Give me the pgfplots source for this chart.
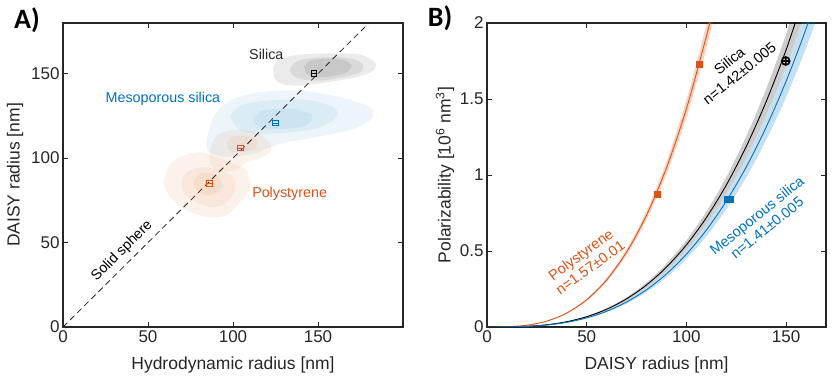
\documentclass[border=0pt]{standalone}
\usepackage{pgfplots}
\pgfplotsset{compat=1.18}
\usepgfplotslibrary{fillbetween}
\usepackage{fontspec}
\setmainfont{Liberation Sans}
\newfontfamily\carlito{Carlito}
\definecolor{mOrange}{RGB}{217,83,25}
\definecolor{mBlue}{RGB}{0,114,189}
\definecolor{psBlob}{RGB}{220,130,60}
\definecolor{axgray}{RGB}{38,38,38}
\pgfplotsset{
  mstyle/.style={
    scale only axis,
    axis line style={axgray, line width=1.2pt},
    tick style={axgray, line width=0.9pt},
    tick align=inside, major tick length=5pt,
    xtick pos=both, ytick pos=both,
    ticklabel style={font=\fontsize{17}{17}\selectfont, text=axgray},
    label style={font=\fontsize{17.5}{18}\selectfont, text=axgray},
    /pgf/number format/assume math mode=true,
  },
  blob/.style={draw=none, smooth, fill=#1},
}
\begin{document}
\begin{tikzpicture}

% ---------------- panel A ----------------
\begin{axis}[mstyle, at={(0pt,0pt)}, anchor=south west,
  width=340pt, height=304pt,
  xmin=0, xmax=200, ymin=0, ymax=180,
  xtick={0,50,100,150}, ytick={0,50,100,150},
  xlabel={Hydrodynamic radius [nm]}, ylabel={DAISY radius [nm]},
  xlabel style={at={(axis description cs:0.5,-0.125)}, anchor=center},
  ylabel style={at={(axis description cs:-0.141,0.5)}, anchor=center},
]
% silica density
\addplot[blob=black, fill opacity=0.08] coordinates {(123.7,153.8)(127.6,158.7)(139.4,161.3)(159.0,162.0)(174.7,161.3)(183.5,156.7)(182.5,151.8)(172.7,147.9)(155.1,144.9)(139.4,142.9)(128.6,143.9)(124.1,147.9)(123.7,153.8)} -- cycle;
\addplot[blob=black, fill opacity=0.08] coordinates {(133.5,152.8)(137.5,157.3)(147.3,159.3)(162.9,159.7)(172.7,158.1)(176.7,154.8)(174.7,150.8)(164.9,147.9)(151.2,145.9)(139.4,146.9)(134.5,149.8)(133.5,152.8)} -- cycle;
\addplot[blob=black, fill opacity=0.08] coordinates {(141.8,153.8)(145.3,157.7)(155.1,158.7)(164.9,158.1)(169.8,154.8)(166.9,150.8)(157.1,148.3)(147.3,147.9)(142.9,150.2)(141.8,153.8)} -- cycle;
% mesoporous silica density
\addplot[blob=mBlue, fill opacity=0.07] coordinates {(84.5,110.5)(88.4,124.2)(98.2,134.1)(115.9,139.0)(139.4,140.0)(162.9,136.0)(180.6,130.1)(181.6,123.3)(170.8,117.3)(149.2,112.4)(127.6,108.5)(111.9,102.6)(96.3,100.6)(85.5,103.5)(84.5,110.5)} -- cycle;
\addplot[blob=mBlue, fill opacity=0.07] coordinates {(98.2,124.2)(104.1,131.1)(119.8,134.1)(143.3,134.5)(159.0,130.1)(161.0,124.2)(151.2,118.3)(135.5,115.4)(117.8,114.4)(104.1,116.4)(98.2,124.2)} -- cycle;
\addplot[blob=mBlue, fill opacity=0.07] coordinates {(111.9,123.3)(117.8,128.2)(133.5,129.2)(145.3,126.2)(146.3,122.3)(139.4,118.3)(123.7,117.3)(113.9,119.3)(111.9,123.3)} -- cycle;
% polystyrene densities
\addplot[blob=psBlob, fill opacity=0.1] coordinates {(86.5,104.5)(89.4,112.4)(98.2,116.4)(110.0,116.0)(118.8,112.4)(122.7,105.5)(117.8,100.6)(108.0,97.6)(101.2,92.7)(90.4,92.7)(86.5,97.6)(86.5,104.5)} -- cycle;
\addplot[blob=psBlob, fill opacity=0.1] coordinates {(96.3,108.5)(99.2,112.4)(108.0,113.4)(113.9,110.5)(112.9,105.5)(106.1,103.5)(98.2,104.5)(96.3,108.5)} -- cycle;
\addplot[blob=psBlob, fill opacity=0.1] coordinates {(59.0,85.8)(62.9,96.6)(70.8,101.6)(80.6,103.5)(90.4,100.6)(100.2,96.6)(108.0,92.7)(110.0,82.9)(104.1,74.0)(96.3,66.2)(84.5,65.2)(72.8,69.1)(62.9,77.0)(59.0,85.8)} -- cycle;
\addplot[blob=psBlob, fill opacity=0.1] coordinates {(69.8,85.8)(72.8,91.7)(82.5,94.7)(92.4,92.7)(100.2,88.8)(101.2,80.9)(95.3,73.0)(86.5,71.0)(76.6,74.9)(70.8,79.9)(69.8,85.8)} -- cycle;
\addplot[blob=psBlob, fill opacity=0.1] coordinates {(76.6,85.8)(80.6,90.8)(88.4,90.8)(93.3,85.8)(91.4,79.9)(84.5,78.0)(78.6,80.9)(76.6,85.8)} -- cycle;
% solid sphere line
\addplot[black!85, line width=0.8pt, dash pattern=on 6pt off 4pt] coordinates {(0,0)(180,180)};
% measured points
\addplot[only marks, mark=square, mark size=2.8pt, line width=1pt, black] coordinates {(147.6,150.0)};
\addplot[only marks, mark=-, mark size=2.8pt, line width=1pt, black] coordinates {(147.6,150.0)};
\addplot[only marks, mark=square, mark size=2.8pt, line width=1pt, mBlue] coordinates {(125.1,120.7)};
\addplot[only marks, mark=-, mark size=2.8pt, line width=1pt, mBlue] coordinates {(125.1,120.7)};
\addplot[only marks, mark=square, mark size=2.8pt, line width=1pt, mOrange] coordinates {(104.3,105.9)(86.3,84.8)};
\addplot[only marks, mark=-, mark size=2.8pt, line width=1pt, mOrange] coordinates {(104.3,105.9)(86.3,84.8)};
\node[font=\fontsize{14.3}{15}\selectfont, text=axgray] at (axis cs:119.6,161.4) {Silica};
\node[font=\fontsize{14.3}{15}\selectfont, text=mBlue] at (axis cs:58.8,135.2) {Mesoporous silica};
\node[font=\fontsize{14.3}{15}\selectfont, text=mOrange] at (axis cs:133.3,79.1) {Polystyrene};
\node[font=\fontsize{14.3}{15}\selectfont, text=black, rotate=45, inner sep=0pt] at (axis cs:34.8,45.0) {Solid sphere};
\end{axis}

% ---------------- panel B ----------------
\begin{axis}[mstyle, at={(424pt,0pt)}, anchor=south west,
  width=339pt, height=304pt,
  xmin=0, xmax=170, ymin=0, ymax=2,
  xtick={0,50,100,150}, ytick={0,0.5,1,1.5,2},
  xlabel={DAISY radius [nm]}, ylabel={Polarizability [10\textsuperscript{6} nm\textsuperscript{3}]},
  xlabel style={at={(axis description cs:0.5,-0.125)}, anchor=center},
  ylabel style={at={(axis description cs:-0.124,0.5)}, anchor=center},
]
% polystyrene band
\addplot[draw=none, smooth, name path=pslo, forget plot] coordinates {(0,0)(10,0.0014)(20,0.0110)(30,0.0372)(40,0.0882)(50,0.1723)(60,0.2977)(70,0.4728)(80,0.7057)(90,1.0048)(100,1.3783)(110,1.8345)(115,2.0963)};
\addplot[draw=none, smooth, name path=pshi, forget plot] coordinates {(0,0)(10,0.0015)(20,0.0120)(30,0.0404)(40,0.0956)(50,0.1868)(60,0.3228)(70,0.5126)(80,0.7652)(90,1.0895)(100,1.4945)(110,1.9892)(115,2.2730)};
\addplot[fill=mOrange, fill opacity=0.25, draw=none] fill between[of=pslo and pshi];
% silica band
\addplot[draw=none, smooth, name path=silo, forget plot] coordinates {(0,0)(10,0.0005)(20,0.0041)(30,0.0138)(40,0.0326)(50,0.0637)(60,0.1101)(70,0.1748)(80,0.2610)(90,0.3716)(100,0.5097)(110,0.6784)(120,0.8808)(130,1.1198)(140,1.3986)(150,1.7202)(160,2.0877)};
\addplot[draw=none, smooth, name path=sihi, forget plot] coordinates {(0,0)(10,0.0006)(20,0.0046)(30,0.0154)(40,0.0365)(50,0.0714)(60,0.1233)(70,0.1959)(80,0.2924)(90,0.4163)(100,0.5710)(110,0.7600)(120,0.9867)(130,1.2545)(140,1.5668)(150,1.9271)(160,2.3388)};
\addplot[fill=black, fill opacity=0.2, draw=none] fill between[of=silo and sihi];
% mesoporous band
\addplot[draw=none, smooth, name path=melo, forget plot] coordinates {(0,0)(10,0.0004)(20,0.0036)(30,0.0121)(40,0.0287)(50,0.0560)(60,0.0968)(70,0.1537)(80,0.2294)(90,0.3267)(100,0.4481)(110,0.5964)(120,0.7743)(130,0.9845)(140,1.2296)(150,1.5123)(160,1.8354)(170,2.2015)};
\addplot[draw=none, smooth, name path=mehi, forget plot] coordinates {(0,0)(10,0.0005)(20,0.0041)(30,0.0138)(40,0.0326)(50,0.0637)(60,0.1101)(70,0.1748)(80,0.2610)(90,0.3716)(100,0.5097)(110,0.6784)(120,0.8808)(130,1.1198)(140,1.3986)(150,1.7202)(160,2.0877)(170,2.5042)};
\addplot[fill=mBlue, fill opacity=0.22, draw=none] fill between[of=melo and mehi];
% fitted curves
\addplot[smooth, mOrange, line width=0.9pt] coordinates {(0,0)(10,0.0014)(20,0.0115)(30,0.0388)(40,0.0919)(50,0.1795)(60,0.3102)(70,0.4927)(80,0.7354)(90,1.0471)(100,1.4363)(110,1.9117)(115,2.1844)};
\addplot[smooth, black, line width=0.9pt] coordinates {(0,0)(10,0.0005)(20,0.0043)(30,0.0146)(40,0.0346)(50,0.0676)(60,0.1167)(70,0.1854)(80,0.2767)(90,0.3939)(100,0.5404)(110,0.7193)(120,0.9338)(130,1.1873)(140,1.4829)(150,1.8239)(160,2.2135)};
\addplot[smooth, mBlue, line width=0.9pt] coordinates {(0,0)(10,0.0005)(20,0.0038)(30,0.0129)(40,0.0307)(50,0.0599)(60,0.1035)(70,0.1644)(80,0.2454)(90,0.3493)(100,0.4792)(110,0.6378)(120,0.8281)(130,1.0528)(140,1.3149)(150,1.6173)(160,1.9628)(170,2.3543)};
% measured points
\addplot[only marks, mark=square*, mark size=3pt, mOrange] coordinates {(85.2,0.873)(106.2,1.732)};
\addplot[only marks, mark=square*, mark size=3pt, mark options={xscale=1.6}, mBlue] coordinates {(121.2,0.84)};
\addplot[only marks, mark=oplus, mark size=4pt, line width=1.6pt, black] coordinates {(149.8,1.75)};
\node[font=\fontsize{14.5}{16}\selectfont, text=mOrange, rotate=36, align=center] at (axis cs:49.3,0.434) {Polystyrene\\n=1.57±0.01};
\node[font=\fontsize{14.5}{16}\selectfont, text=black, rotate=39, align=center] at (axis cs:124,1.71) {Silica\\n=1.42±0.005};
\node[font=\fontsize{14.5}{16}\selectfont, text=mBlue, rotate=39, align=center] at (axis cs:137.8,0.693) {Mesoporous silica\\n=1.41±0.005};
\end{axis}

\node[font=\carlito\bfseries\fontsize{28}{28}\selectfont] at (-36pt,307pt) {A)};
\node[font=\carlito\bfseries\fontsize{28}{28}\selectfont] at (377pt,309pt) {B)};
\pgfresetboundingbox
\path[use as bounding box] (-63pt,-55pt) rectangle (774pt,327pt);
\end{tikzpicture}
\end{document}
